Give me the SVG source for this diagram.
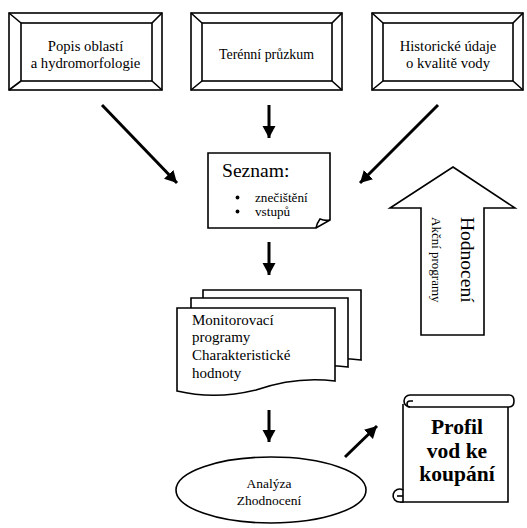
<svg xmlns="http://www.w3.org/2000/svg" width="527" height="528" viewBox="0 0 527 528">
<style>
.sh{fill:#fff;stroke:#000;stroke-width:1.6;stroke-linejoin:miter}
.ln{fill:none;stroke:#000;stroke-width:1.6}
.t{font-family:"Liberation Serif","Times New Roman",serif;fill:#000}
.c{text-anchor:middle}
.con{stroke:#000;stroke-width:3;fill:none}
</style>
<defs>
<marker id="ah" markerUnits="userSpaceOnUse" viewBox="-12 -7 13 14" refX="0" refY="0" markerWidth="13" markerHeight="14" orient="auto">
<path d="M0,0 L-12,-6.5 L-12,6.5 Z" fill="#000"/>
</marker>
</defs>
<rect width="527" height="528" fill="#fff"/>

<g id="box-popis">
<rect class="sh" x="9" y="13" width="153" height="77"/>
<rect class="sh" x="21" y="23" width="131" height="58"/>
<path class="ln" d="M9,13 L21,23 M162,13 L152,23 M9,90 L21,81 M162,90 L152,81"/>
<text class="t c" x="85.5" y="50.5" font-size="14.7">Popis oblastí</text>
<text class="t c" x="85.5" y="68" font-size="14.7">a hydromorfologie</text>
</g>

<g id="box-terenni">
<rect class="sh" x="191" y="13" width="151" height="77"/>
<rect class="sh" x="202" y="23" width="130" height="58"/>
<path class="ln" d="M191,13 L202,23 M342,13 L332,23 M191,90 L202,81 M342,90 L332,81"/>
<text class="t c" x="266.5" y="59" font-size="13.9">Terénní průzkum</text>
</g>

<g id="box-historicke">
<rect class="sh" x="372" y="13" width="151" height="77"/>
<rect class="sh" x="383" y="23" width="130" height="58"/>
<path class="ln" d="M372,13 L383,23 M523,13 L513,23 M372,90 L383,81 M523,90 L513,81"/>
<text class="t c" x="448" y="50.5" font-size="14.7">Historické údaje</text>
<text class="t c" x="448" y="68" font-size="14.7">o kvalitě vody</text>
</g>

<g id="seznam">
<path class="sh" d="M208,153 H330 V220 L316,228 H208 Z"/>
<path class="ln" d="M316,228 Q317,223 320,219 Q325,221 330,220"/>
<text class="t" x="222" y="177" font-size="19.6">Seznam:</text>
<circle cx="237.5" cy="197.5" r="1.9" fill="#000"/>
<circle cx="237.5" cy="211.5" r="1.9" fill="#000"/>
<text class="t" x="255" y="202" font-size="13.2">znečištění</text>
<text class="t" x="255" y="216" font-size="13.2">vstupů</text>
</g>

<g id="hodnoceni">
<path class="sh" d="M453,167 L515,208 L484,208 L484,335 L421,335 L421,208 L390,208 Z"/>
<text class="t" transform="translate(460.5,217) rotate(90)" font-size="19.5">Hodnocení</text>
<text class="t" transform="translate(431.5,217) rotate(90)" font-size="13">Akční programy</text>
</g>

<g id="monitorovaci">
<path class="sh" d="M203,290 H361 V360 Q322,355 282,369 Q241,379 203,370 Z"/>
<path class="sh" d="M191,298 H348 V367 Q309,362 270,376 Q229,386 191,377 Z"/>
<path class="sh" d="M177,308 H335 V381 Q296,376 256,390 Q215,400 177,391 Z"/>
<text class="t" x="192" y="324.5" font-size="15">Monitorovací</text>
<text class="t" x="192" y="342" font-size="15">programy</text>
<text class="t" x="192" y="360" font-size="15">Charakteristické</text>
<text class="t" x="192" y="377.5" font-size="15">hodnoty</text>
</g>

<g id="analyza">
<ellipse class="sh" cx="271" cy="490" rx="95" ry="33"/>
<text class="t c" x="269" y="488" font-size="13.5">Analýza</text>
<text class="t c" x="269" y="505" font-size="13.5">Zhodnocení</text>
</g>

<g id="profil">
<path class="sh" d="M403,401 H508 V502 H403 Z" style="stroke:none"/>
<path class="ln" d="M403,404 V490"/>
<path class="ln" d="M400,502 H508 V407"/>
<path class="sh" d="M410,395 H509 Q514,395 514,401 Q514,407 509,407 H410 A6,6 0 0 1 410,395 Z"/>
<path class="ln" d="M410,407 A3,3 0 0 1 410,401 H413"/>
<path class="sh" d="M400,502 A6.5,6.5 0 1 1 403,490 V502 Z"/>
<path class="ln" d="M397,496 H403"/>
<text class="t c" x="457" y="434" font-size="21.5" font-weight="bold">Profil</text>
<text class="t c" x="457" y="457.5" font-size="21.5" font-weight="bold">vod ke</text>
<text class="t c" x="457" y="481" font-size="21.5" font-weight="bold">koupání</text>
</g>

<g id="connectors">
<line class="con" x1="102" y1="105" x2="177" y2="183" marker-end="url(#ah)"/>
<line class="con" x1="269" y1="105" x2="269" y2="138" marker-end="url(#ah)"/>
<line class="con" x1="438" y1="105" x2="360" y2="183" marker-end="url(#ah)"/>
<line class="con" x1="269" y1="242" x2="269" y2="275" marker-end="url(#ah)"/>
<line class="con" x1="269" y1="410" x2="269" y2="442" marker-end="url(#ah)"/>
<line class="con" x1="345" y1="457" x2="377" y2="426" marker-end="url(#ah)"/>
</g>
</svg>
